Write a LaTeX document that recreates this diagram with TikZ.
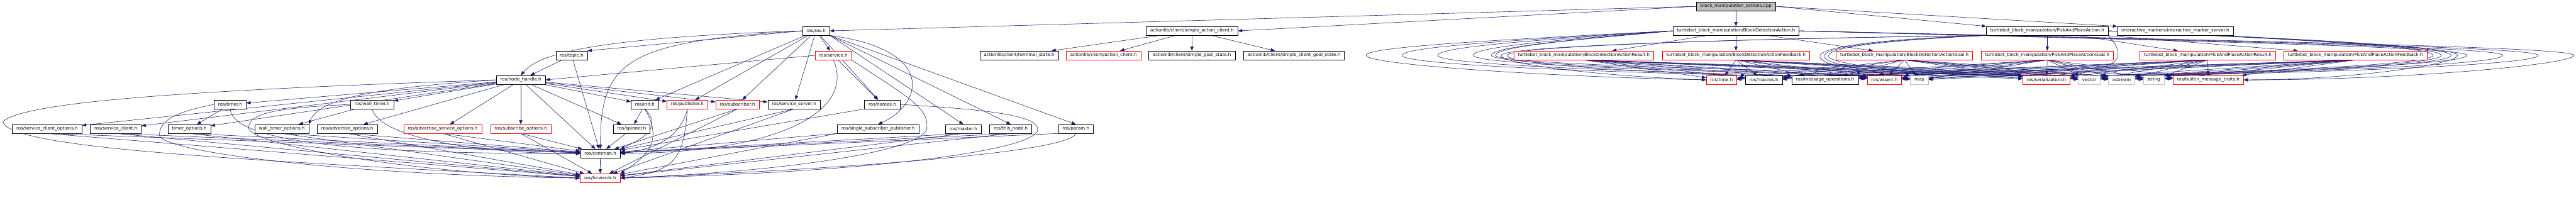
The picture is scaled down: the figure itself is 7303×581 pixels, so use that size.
\documentclass[tikz,border=0pt]{standalone}
\usepackage{fontspec}
\setmainfont{DejaVu Sans}
\usepackage{tikz}
\usetikzlibrary{
  arrows.meta,
  backgrounds
}
\definecolor{edgecolor}{RGB}{25, 25, 112}
\definecolor{cutcolor}{RGB}{255, 0, 0}
\definecolor{syscolor}{RGB}{191, 191, 191}
\definecolor{rootfill}{RGB}{191, 191, 191}

\begin{document}
\begin{tikzpicture}[
    x=1pt, y=1pt,
    % Estilos dos nós
    filenode/.style={
        rectangle,
        draw=black,
        fill=white,
        line width=1pt,
        minimum height=25pt,
        inner xsep=11.5pt,
        inner ysep=0pt,
        font=\fontsize{12.6}{15}\selectfont
    },
    cutnode/.style={filenode, draw=cutcolor},
    sysnode/.style={filenode, draw=syscolor},
    rootnode/.style={filenode, fill=rootfill},
    dep/.style={-{Triangle[length=12pt,width=9pt]}, draw=edgecolor, line width=1pt}
]
\useasboundingbox (0,0) rectangle (7303,-581);

% ============================================================================
% Arquivo raiz
% ============================================================================
\node[rootnode] (cpp) at (4921.5,-18) {block\_manipulation\_actions.cpp};

% ============================================================================
% Nível 1
% ============================================================================
\node[filenode] (ros) at (2313.5,-87.5) {ros/ros.h};
\node[filenode] (sac) at (3379.5,-87.5) {actionlib/client/simple\_action\_client.h};
\node[filenode] (bdact) at (4921.5,-87.5) {turtlebot\_block\_manipulation/BlockDetectionAction.h};
\node[filenode] (ppact) at (5804,-87.5) {turtlebot\_block\_manipulation/PickAndPlaceAction.h};
\node[filenode] (ims) at (6167,-87.5) {interactive\_markers/interactive\_marker\_server.h};

% ============================================================================
% Nível 2
% ============================================================================
\node[filenode] (topic) at (1620.5,-157) {ros/topic.h};
\node[cutnode] (service) at (2362.5,-157) {ros/service.h};
\node[filenode] (termstate) at (2889.5,-157) {actionlib/client/terminal\_state.h};
\node[cutnode] (actclient) at (3128.5,-157) {actionlib/client/action\_client.h};
\node[filenode] (goalstate) at (3379,-157) {actionlib/client/simple\_goal\_state.h};
\node[filenode] (clientgoalstate) at (3668.5,-157) {actionlib/client/simple\_client\_goal\_state.h};
\node[cutnode] (bdresult) at (4490,-157) {turtlebot\_block\_manipulation/BlockDetectionActionResult.h};
\node[cutnode] (bdfeedback) at (4921.5,-157) {turtlebot\_block\_manipulation/BlockDetectionActionFeedback.h};
\node[cutnode] (bdgoal) at (5399,-157) {turtlebot\_block\_manipulation/BlockDetectionActionGoal.h};
\node[cutnode] (ppgoal) at (5804,-157) {turtlebot\_block\_manipulation/PickAndPlaceActionGoal.h};
\node[cutnode] (ppresult) at (6259,-157) {turtlebot\_block\_manipulation/PickAndPlaceActionResult.h};
\node[cutnode] (ppfeedback) at (6677.5,-157) {turtlebot\_block\_manipulation/PickAndPlaceActionFeedback.h};

% ============================================================================
% Nível 3
% ============================================================================
\node[filenode] (nodehandle) at (1476.5,-226.5) {ros/node\_handle.h};
\node[cutnode] (time) at (4880.5,-226.5) {ros/time.h};
\node[filenode] (macros) at (5000.5,-226.5) {ros/macros.h};
\node[filenode] (msgops) at (5174,-226.5) {ros/message\_operations.h};
\node[cutnode] (assert) at (5342.5,-226.5) {ros/assert.h};
\node[sysnode] (map) at (5441.5,-226.5) {map};
\node[cutnode] (serial) at (5801.5,-226.5) {ros/serialization.h};
\node[sysnode] (vector) at (5923,-226.5) {vector};
\node[sysnode] (ostream) at (6015,-226.5) {ostream};
\node[sysnode] (string) at (6105.5,-226.5) {string};
\node[cutnode] (traits) at (6260.5,-226.5) {ros/builtin\_message\_traits.h};

% ============================================================================
% Nível 4
% ============================================================================
\node[filenode] (timer) at (652.5,-296) {ros/timer.h};
\node[filenode] (walltimer) at (1055,-296) {ros/wall\_timer.h};
\node[filenode] (init) at (1828,-296) {ros/init.h};
\node[cutnode] (publisher) at (1948.5,-296) {ros/publisher.h};
\node[cutnode] (subscriber) at (2090.5,-296) {ros/subscriber.h};
\node[filenode] (srvserver) at (2251,-296) {ros/service\_server.h};
\node[filenode] (names) at (2501.5,-296) {ros/names.h};

% ============================================================================
% Nível 5
% ============================================================================
\node[filenode] (clientopts) at (133.5,-365.5) {ros/service\_client\_options.h};
\node[filenode] (srvclient) at (328.5,-365.5) {ros/service\_client.h};
\node[filenode] (timeropts) at (536.5,-365.5) {timer\_options.h};
\node[filenode] (walltimeropts) at (799,-365.5) {wall\_timer\_options.h};
\node[filenode] (advopts) at (984.5,-365.5) {ros/advertise\_options.h};
\node[cutnode] (advsrvopts) at (1255,-365.5) {ros/advertise\_service\_options.h};
\node[cutnode] (subopts) at (1476.5,-365.5) {ros/subscribe\_options.h};
\node[filenode] (spinner) at (1791,-365.5) {ros/spinner.h};
\node[filenode] (sspub) at (2489.5,-365.5) {ros/single\_subscriber\_publisher.h};
\node[filenode] (master) at (2731,-365.5) {ros/master.h};
\node[filenode] (thisnode) at (2865.5,-365.5) {ros/this\_node.h};
\node[filenode] (param) at (3050,-365.5) {ros/param.h};

% ============================================================================
% Níveis 6 e 7
% ============================================================================
\node[filenode] (common) at (1702,-435.5) {ros/common.h};
\node[cutnode] (forwards) at (1701.5,-505) {ros/forwards.h};

% ============================================================================
% Pontos de passagem das curvas
% ============================================================================
\coordinate (vl1) at (3873,-157);
\coordinate (vl2) at (3975,-157);
\coordinate (vl3) at (4076,-157);
\coordinate (vl4) at (4177,-157);
\coordinate (vl5) at (4228,-157);
\coordinate (vl6) at (4240,-157);
\coordinate (vl7) at (4256,-157);
\coordinate (vl8) at (4273,-157);
\coordinate (vm1) at (5160,-157);
\coordinate (vm2) at (5172,-157);
\coordinate (vm3) at (5184,-157);
\coordinate (vm4) at (6004,-157);
\coordinate (vr1) at (6898,-157);
\coordinate (vr2) at (6921,-157);
\coordinate (vr3) at (6949,-157);
\coordinate (vr4) at (6967,-157);
\coordinate (vr5) at (6994,-157);
\coordinate (vr6) at (7095,-157);
\coordinate (vr7) at (7196,-157);
\coordinate (vr8) at (7297,-157);
\coordinate (vfl) at (8,-345);
\coordinate (vtm) at (452,-383);
\coordinate (vwt) at (705,-363);
\coordinate (vsv) at (2627,-365);
\coordinate (vnm) at (2942,-367);

\begin{scope}[on background layer, every edge/.style={dep}]
\fill[white] (0,0) rectangle (7303,-581);

% ============================================================================
% Setas do arquivo raiz
% ============================================================================
\path (cpp.west) edge (ros.east) edge (sac.east);
\path (cpp) edge (bdact);
\path (cpp.east) edge (ppact.north west) edge (ims.north west);

% ============================================================================
% ros/ros.h
% ============================================================================
\path (ros.west) edge (topic.north east);
\draw[dep] (ros.west) .. controls +(-600,-20) and +(50,60) .. (nodehandle.north);
\draw[dep] (ros.west) .. controls +(-500,-30) and +(0,250) .. (common.north);
\path (ros) edge (service) edge (init) edge (publisher) edge (subscriber) edge (srvserver) edge (names);
\draw[dep] (ros.south east) .. controls +(300,-40) and +(130,60) .. (sspub.north);
\path (ros.south east) edge (master.north) edge (thisnode.north) edge (param.north);

% ============================================================================
% ros/topic.h e ros/service.h
% ============================================================================
\path (topic) edge (nodehandle) edge (common);
\path (service.west) edge (nodehandle.east);
\path (service) edge (names);
\draw[dep] (service.south) .. controls +(58,-130) and +(491,5) .. (common.east);
\draw[dep] (service.south east) .. controls +(150,-100) and +(10,60) .. (vsv) .. controls +(-10,-60) and +(500,20) .. (forwards.east);

% ============================================================================
% ros/node_handle.h
% ============================================================================
\path (nodehandle) edge (timer) edge (walltimer) edge (clientopts) edge (srvclient) edge (timeropts) edge (advopts) edge (advsrvopts) edge (subopts) edge (publisher) edge (subscriber) edge (srvserver) edge (spinner) edge (init) edge (common);
\draw[dep] (nodehandle.west) .. controls +(-300,-20) and +(30,80) .. (walltimeropts.north east);
\draw[dep] (nodehandle.west) .. controls +(-900,-30) and +(60,55) .. (vfl) .. controls +(20,-80) and +(-900,50) .. (forwards.west);

% ============================================================================
% Temporizadores
% ============================================================================
\path (timer) edge (timeropts);
\draw[dep] (timer.south) .. controls +(10,-110) and +(-500,0) .. (common.west);
\draw[dep] (timer.west) .. controls +(-100,-20) and +(0,45) .. (vtm) .. controls +(0,-45) and +(-700,10) .. (forwards.west);
\path (walltimer) edge (walltimeropts);
\draw[dep] (walltimer.south) .. controls +(20,-80) and +(-300,0) .. (common.west);
\draw[dep] (walltimer.west) .. controls +(-200,-10) and +(0,45) .. (vwt) .. controls +(0,-45) and +(-500,15) .. (forwards.west);

% ============================================================================
% Opções -> common / forwards
% ============================================================================
\path (clientopts.south) edge (common) edge (forwards);
\path (srvclient.south) edge (common) edge (forwards);
\path (timeropts.south) edge (common) edge (forwards);
\path (walltimeropts.south) edge (common) edge (forwards);
\path (advopts.south) edge (common) edge (forwards);
\path (advsrvopts.south) edge (common) edge (forwards);
\path (subopts.south) edge (common) edge (forwards);

% ============================================================================
% Lado direito -> common / forwards
% ============================================================================
\path (spinner) edge (common);
\path (init) edge (spinner);
\draw[dep] (init.south) .. controls +(60,-60) and +(40,20) .. (common.north east);
\draw[dep] (init.south) .. controls +(60,-100) and +(60,40) .. (forwards.north east);
\draw[dep] (publisher.south) .. controls +(-20,-90) and +(80,10) .. (common.east);
\draw[dep] (publisher.south) .. controls +(-10,-150) and +(150,20) .. (forwards.east);
\path (subscriber.south) edge (common) edge (forwards);
\path (srvserver.south) edge (common) edge (forwards);
\path (names.south west) edge (common);
\draw[dep] (names.east) .. controls +(250,-15) and +(0,40) .. (vnm) .. controls +(0,-60) and +(700,15) .. (forwards.east);
\path (sspub.south west) edge (common) edge (forwards);
\path (master.south) edge (common) edge (forwards);
\path (thisnode.south) edge (common) edge (forwards);
\path (param.south west) edge (common);
\draw[dep] (param.south) .. controls +(-20,-60) and +(500,20) .. (forwards.east);
\path (common) edge (forwards);

% ============================================================================
% actionlib
% ============================================================================
\path (sac) edge (termstate) edge (actclient) edge (goalstate) edge (clientgoalstate);

% ============================================================================
% Mensagens
% ============================================================================
\path (bdact) edge (bdresult) edge (bdfeedback) edge (bdgoal);
\path (ppact) edge (ppgoal) edge (ppresult) edge (ppfeedback);
\path (bdresult.south) edge (time) edge (macros) edge (msgops) edge (assert) edge (map) edge (serial) edge (vector) edge (ostream) edge (string) edge (traits);
\path (bdfeedback.south) edge (time) edge (macros) edge (msgops) edge (assert) edge (map) edge (serial) edge (vector) edge (ostream) edge (string) edge (traits);
\path (bdgoal.south) edge (time) edge (macros) edge (msgops) edge (assert) edge (map) edge (serial) edge (vector) edge (ostream) edge (string) edge (traits);
\path (ppgoal.south) edge (time) edge (macros) edge (msgops) edge (assert) edge (map) edge (serial) edge (vector) edge (ostream) edge (string) edge (traits);
\path (ppresult.south) edge (time) edge (macros) edge (msgops) edge (assert) edge (map) edge (serial) edge (vector) edge (ostream) edge (string) edge (traits);
\path (ppfeedback.south) edge (time) edge (macros) edge (msgops) edge (assert) edge (map) edge (serial) edge (vector) edge (ostream) edge (string) edge (traits);

% ============================================================================
% Laços à esquerda
% ============================================================================
\draw[dep] (bdact.west) .. controls +(-480,-25) and +(0,25) .. (vl1) .. controls +(0,-25) and +(-480,10) .. (time.west);
\draw[dep] (bdact.west) .. controls +(-420,-25) and +(0,25) .. (vl2) .. controls +(0,-25) and +(-486,12) .. (macros.north west);
\draw[dep] (bdact.west) .. controls +(-365,-25) and +(0,25) .. (vl3) .. controls +(0,-25) and +(-500,12) .. (msgops.north west);
\draw[dep] (bdact.west) .. controls +(-310,-25) and +(0,25) .. (vl4) .. controls +(0,-25) and +(-558,12) .. (assert.north west);
\draw[dep] (bdact.west) .. controls +(-280,-25) and +(0,25) .. (vl5) .. controls +(0,-25) and +(-594,12) .. (map.north west);
\draw[dep] (bdact.west) .. controls +(-275,-25) and +(0,25) .. (vl6) .. controls +(0,-25) and +(-747,12) .. (serial.north west);
\draw[dep] (ppact.south west) .. controls +(-750,-10) and +(0,25) .. (vl7) .. controls +(0,-25) and +(-290,10) .. (time.west);
\draw[dep] (ppact.south west) .. controls +(-740,-10) and +(0,25) .. (vl8) .. controls +(0,-25) and +(-337,12) .. (macros.north west);

% ============================================================================
% Laços centrais
% ============================================================================
\draw[dep] (ppact.south west) .. controls +(-300,-10) and +(10,25) .. (vm1) .. controls +(-10,-25) and +(0,15) .. (msgops.north east);
\draw[dep] (ppact.south west) .. controls +(-290,-12) and +(10,25) .. (vm2) .. controls +(-10,-25) and +(-30,15) .. (assert.north);
\draw[dep] (ppact.south west) .. controls +(-280,-14) and +(10,25) .. (vm3) .. controls +(-10,-25) and +(-40,15) .. (map.north);
\draw[dep] (ppact.south east) .. controls +(20,-25) and +(0,25) .. (vm4) .. controls +(0,-25) and +(80,15) .. (serial.north east);

% ============================================================================
% Laços à direita
% ============================================================================
\draw[dep] (ppact.east) .. controls +(507,-22) and +(0,25) .. (vr1) .. controls +(0,-25) and +(471,10) .. (vector.north east);
\draw[dep] (ppact.east) .. controls +(519,-22) and +(0,25) .. (vr2) .. controls +(0,-25) and +(434,10) .. (ostream.north east);
\draw[dep] (ppact.east) .. controls +(535,-22) and +(0,25) .. (vr3) .. controls +(0,-25) and +(407,10) .. (string.north east);
\draw[dep] (ppact.east) .. controls +(545,-22) and +(0,25) .. (vr4) .. controls +(0,-25) and +(302,0) .. (traits.east);
\draw[dep] (bdact.east) .. controls +(1041,-28) and +(0,25) .. (vr5) .. controls +(0,-25) and +(519,10) .. (vector.north east);
\draw[dep] (bdact.east) .. controls +(1097,-28) and +(0,25) .. (vr6) .. controls +(0,-25) and +(521,10) .. (ostream.north east);
\draw[dep] (bdact.east) .. controls +(1152,-28) and +(0,25) .. (vr7) .. controls +(0,-25) and +(530,10) .. (string.north east);
\draw[dep] (bdact.east) .. controls +(1208,-28) and +(0,25) .. (vr8) .. controls +(0,-25) and +(467,0) .. (traits.east);
\end{scope}

\end{tikzpicture}
\end{document}
